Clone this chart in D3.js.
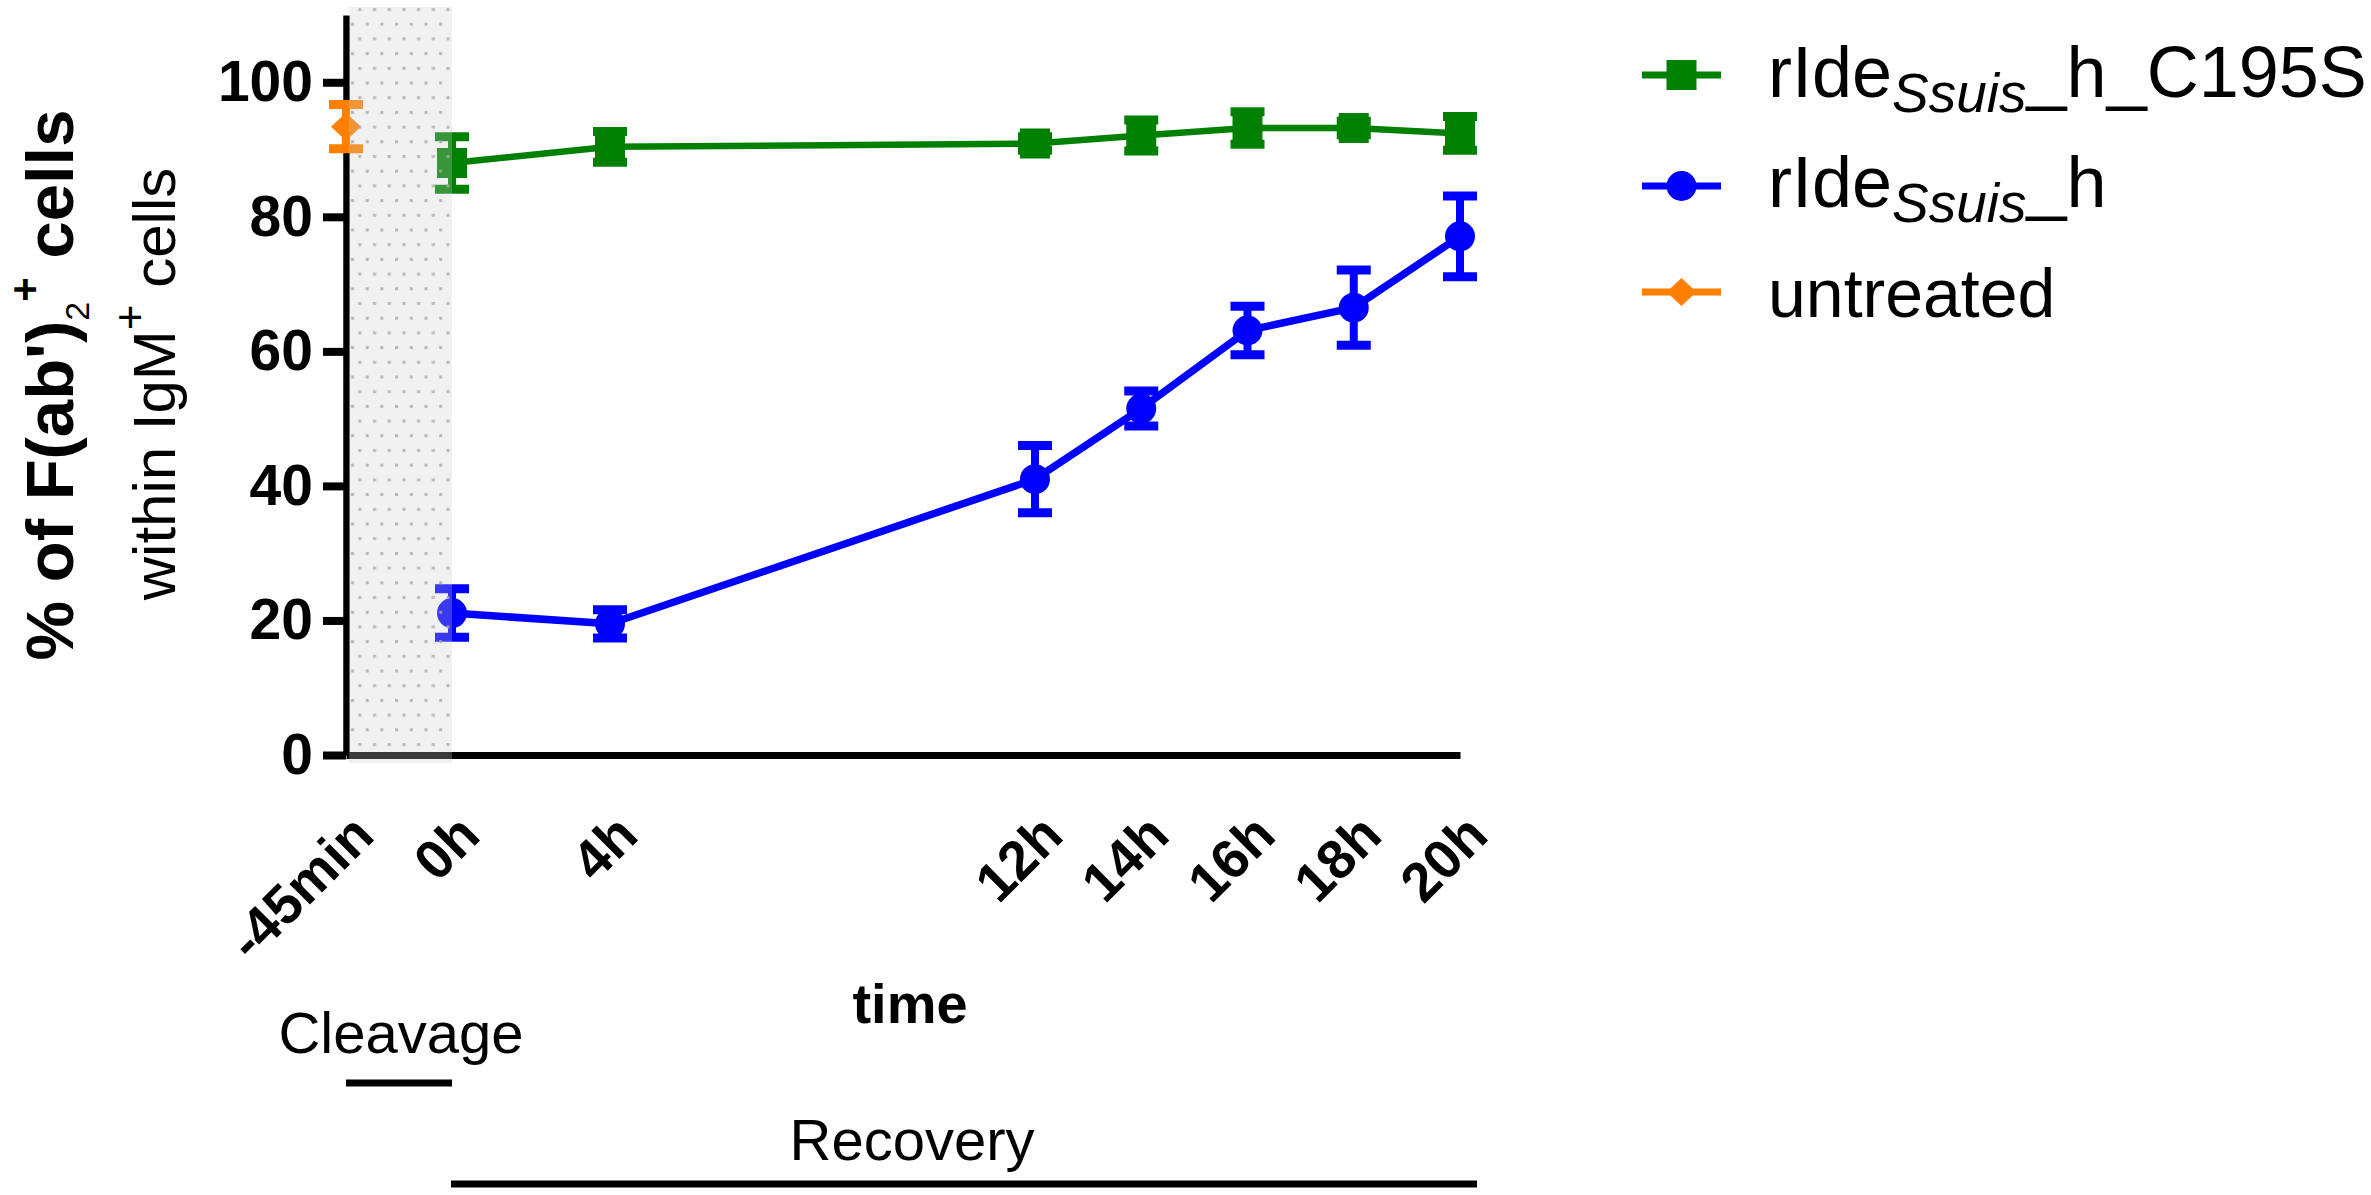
<!DOCTYPE html>
<html>
<head>
<meta charset="utf-8">
<script src="https://cdn.jsdelivr.net/npm/d3@7/dist/d3.min.js"></script>
<style>
    body { margin: 0; background: #fff; }
    text { font-family: 'Liberation Sans', Arial, sans-serif; }
</style>
</head>
<body>
<div id="container"></div>
<script>
// data //

const timeHours = [-0.75, 0, 4, 12, 14, 16, 18, 20]
const timeLabels = ['-45min', '0h', '4h', '12h', '14h', '16h', '18h', '20h']

const recoveryHours = [0, 4, 12, 14, 16, 18, 20]
const c195sMean = [88.0, 90.4, 90.9, 92.1, 93.2, 93.2, 92.4]
const c195sErr = [3.9, 2.3, 1.0, 2.3, 2.4, 1.0, 2.5]
const ideMean = [21.1, 19.5, 41.0, 51.5, 63.1, 66.5, 77.1]
const ideErr = [3.6, 2.1, 5.0, 2.6, 3.6, 5.6, 6.0]

const untreatedHours = [-0.75]
const untreatedMean = [93.4]
const untreatedErr = [3.3]

const yTicks = [0, 20, 40, 60, 80, 100]

// series definitions, built from the arrays above //

const series = [
    { key: 'c195s', color: '#008000', symbol: 'square', hours: recoveryHours, mean: c195sMean, err: c195sErr, width: 6.5 },
    { key: 'ide', color: '#0000ff', symbol: 'circle', hours: recoveryHours, mean: ideMean, err: ideErr, width: 7.5 },
    { key: 'untreated', color: '#ff8000', symbol: 'diamond', hours: untreatedHours, mean: untreatedMean, err: untreatedErr, width: 7 }
]

const W = 2371
const H = 1195

const svg = d3.select('#container')
    .append('svg')
    .attr('width', W)
    .attr('height', H)
    .attr('viewBox', `0 0 ${W} ${H}`)

// scales: the x axis is broken, so it is piecewise linear
const x = d3.scaleLinear()
    .domain([-0.75, 0, 4, 20])
    .range([346, 452, 610, 1460])

const y = d3.scaleLinear()
    .domain([0, 110])
    .range([755, 15])

// begin axes //

const yAxis = svg.append('g')
    .attr('transform', `translate(${x(-0.75)},0)`)
    .call(d3.axisLeft(y).tickValues(yTicks).tickSize(23).tickSizeOuter(0).tickPadding(10))

yAxis.select('.domain').attr('stroke', '#000').attr('stroke-width', 6.5)
yAxis.selectAll('.tick line').attr('stroke', '#000').attr('stroke-width', 8)
yAxis.selectAll('.tick text')
    .attr('font-size', 57)
    .attr('font-weight', 'bold')
    .attr('font-family', "'Liberation Sans', Arial, sans-serif")
    .attr('fill', '#000')

const xAxis = svg.append('g')
    .attr('transform', `translate(0,${y(0)})`)
    .call(
        d3.axisBottom(x)
            .tickValues(timeHours)
            .tickFormat((d, i) => timeLabels[i])
            .tickSize(0)
            .tickSizeOuter(0)
    )

xAxis.select('.domain').attr('stroke', '#000').attr('stroke-width', 7)
xAxis.selectAll('.tick text')
    .attr('font-size', 55)
    .attr('font-weight', 'bold')
    .attr('font-family', "'Liberation Sans', Arial, sans-serif")
    .attr('fill', '#000')
    .attr('text-anchor', 'end')
    .attr('x', 0)
    .attr('y', 0)
    .attr('dy', 0)
    .attr('transform', 'translate(30,83) rotate(-45)')

// end axes //

// begin data marks //

function symbolPath(kind) {
    if (kind === 'square') return d3.symbol(d3.symbolSquare, 900)()
    if (kind === 'circle') return d3.symbol(d3.symbolCircle, Math.PI * 15 * 15)()
    return 'M0,-14L15,0L0,14L-15,0Z'
}

const plot = svg.append('g')

series.forEach((s) => {
    const pts = s.hours.map((h, i) => ({ h, m: s.mean[i], e: s.err[i] }))
    const g = plot.append('g').attr('class', s.key)

    if (pts.length > 1) {
        g.append('path')
            .datum(pts)
            .attr('fill', 'none')
            .attr('stroke', s.color)
            .attr('stroke-width', s.width)
            .attr('stroke-linejoin', 'round')
            .attr('d', d3.line().x((d) => x(d.h)).y((d) => y(d.m)))
    }

    const bars = g.selectAll('.err').data(pts).join('g').attr('class', 'err')
    bars.append('line')
        .attr('x1', (d) => x(d.h)).attr('x2', (d) => x(d.h))
        .attr('y1', (d) => y(d.m - d.e)).attr('y2', (d) => y(d.m + d.e))
        .attr('stroke', s.color).attr('stroke-width', 8)
    ;[-1, 1].forEach((sign) => {
        bars.append('line')
            .attr('x1', (d) => x(d.h) - 17).attr('x2', (d) => x(d.h) + 17)
            .attr('y1', (d) => y(d.m + sign * d.e)).attr('y2', (d) => y(d.m + sign * d.e))
            .attr('stroke', s.color).attr('stroke-width', 9)
    })

    g.selectAll('.mark').data(pts).join('path')
        .attr('class', 'mark')
        .attr('d', symbolPath(s.symbol))
        .attr('transform', (d) => `translate(${x(d.h)},${y(d.m)})`)
        .attr('fill', s.color)
})

// end data marks //

// cleavage shading (drawn on top, translucent, dotted) //

const defs = svg.append('defs')
const pat = defs.append('pattern')
    .attr('id', 'dots')
    .attr('patternUnits', 'userSpaceOnUse')
    .attr('x', 351)
    .attr('y', 8)
    .attr('width', 14.7)
    .attr('height', 29.4)
pat.append('rect').attr('x', 7.35).attr('y', 0).attr('width', 3).attr('height', 3).attr('fill', '#a8a8a8')
pat.append('rect').attr('x', 0).attr('y', 14.7).attr('width', 3).attr('height', 3).attr('fill', '#a8a8a8')

const shadeX0 = x(-0.75) + 3
const shadeX1 = x(0)
svg.append('rect')
    .attr('x', shadeX0).attr('y', 7)
    .attr('width', shadeX1 - shadeX0).attr('height', 756)
    .attr('fill', 'rgb(205,205,205)')
    .attr('fill-opacity', 0.28)
svg.append('rect')
    .attr('x', shadeX0).attr('y', 7)
    .attr('width', shadeX1 - shadeX0).attr('height', 748)
    .attr('fill', 'url(#dots)')
    .attr('opacity', 0.8)

// titles //

const yTitle1 = svg.append('text')
    .attr('transform', 'translate(73,385) rotate(-90)')
    .attr('text-anchor', 'middle')
    .attr('font-size', 67)
    .attr('font-weight', 'bold')
yTitle1.append('tspan').text("% of F(ab')")
yTitle1.append('tspan').attr('font-size', 34).attr('font-weight', 'normal').attr('dy', 16).text('2')
yTitle1.append('tspan').attr('font-size', 42).attr('dy', -50).text('+')
yTitle1.append('tspan').attr('dy', 34).text(' cells')

const yTitle2 = svg.append('text')
    .attr('transform', 'translate(175,384) rotate(-90)')
    .attr('text-anchor', 'middle')
    .attr('font-size', 60)
yTitle2.append('tspan').text('within IgM')
yTitle2.append('tspan').attr('font-size', 44).attr('dy', -30).text('+')
yTitle2.append('tspan').attr('dy', 30).text(' cells')

svg.append('text')
    .attr('x', 910).attr('y', 1023)
    .attr('text-anchor', 'middle')
    .attr('font-size', 56)
    .attr('font-weight', 'bold')
    .text('time')

// phase annotations //

svg.append('text')
    .attr('x', 401).attr('y', 1053)
    .attr('text-anchor', 'middle')
    .attr('font-size', 58)
    .text('Cleavage')
svg.append('line')
    .attr('x1', x(-0.75)).attr('x2', x(0))
    .attr('y1', 1083).attr('y2', 1083)
    .attr('stroke', '#000').attr('stroke-width', 7)

svg.append('text')
    .attr('x', 912).attr('y', 1160)
    .attr('text-anchor', 'middle')
    .attr('font-size', 58)
    .text('Recovery')
svg.append('line')
    .attr('x1', x(0) - 1).attr('x2', x(20) + 17)
    .attr('y1', 1184).attr('y2', 1184)
    .attr('stroke', '#000').attr('stroke-width', 7)

// begin legend //

const legendRows = [
    { key: 'c195s', main: 'rIde', sub: 'Ssuis', tail: '_h_C195S', sy: 75, ty: 97, size: 72 },
    { key: 'ide', main: 'rIde', sub: 'Ssuis', tail: '_h', sy: 186, ty: 207, size: 72 },
    { key: 'untreated', main: 'untreated', sub: '', tail: '', sy: 292, ty: 317, size: 68 }
]

legendRows.forEach((row) => {
    const s = series.find((d) => d.key === row.key)
    const g = svg.append('g')
    g.append('line')
        .attr('x1', 1642).attr('x2', 1721)
        .attr('y1', row.sy).attr('y2', row.sy)
        .attr('stroke', s.color).attr('stroke-width', 7)
    g.append('path')
        .attr('d', symbolPath(s.symbol))
        .attr('transform', `translate(1681.5,${row.sy})`)
        .attr('fill', s.color)
    const t = g.append('text')
        .attr('x', 1768).attr('y', row.ty)
        .attr('font-size', row.size)
    t.append('tspan').text(row.main)
    if (row.sub) {
        t.append('tspan').attr('font-size', 55).attr('font-style', 'italic').attr('dy', 15).text(row.sub)
        t.append('tspan').attr('dy', -15).text(row.tail)
    }
})

// end legend //
</script>
</body>
</html>
